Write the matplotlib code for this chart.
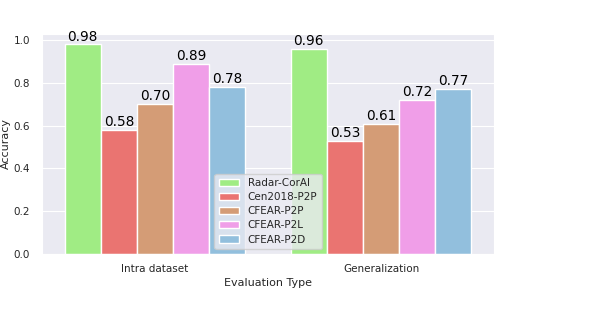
import matplotlib
matplotlib.use('Agg')
import matplotlib.pyplot as plt
import seaborn as sns
import numpy as np

# evaluation types on x axis
eval_types = ['Intra dataset', 'Generalization']
# methods (hue)
methods = ['Radar-CorAl', 'Cen2018-P2P', 'CFEAR-P2P', 'CFEAR-P2L', 'CFEAR-P2D']
# accuracy per method, [intra, generalization]
radar_coral = [0.98, 0.96]
cen2018_p2p = [0.58, 0.53]
cfear_p2p = [0.70, 0.61]
cfear_p2l = [0.89, 0.72]
cfear_p2d = [0.78, 0.77]

colors = ['#a0ec84', '#ea7471', '#d49c76', '#f09ee8', '#92bfdd']

sns.set_style('darkgrid')
plt.rcParams['font.family'] = ['DejaVu Sans']

fig = plt.figure(figsize=(5.98, 3.36), dpi=100)
ax = fig.add_axes([0.0702, 0.244, 0.756, 0.655])

values = [radar_coral, cen2018_p2p, cfear_p2p, cfear_p2l, cfear_p2d]
x = np.arange(len(eval_types))
w = 0.16
for i, (m, v) in enumerate(zip(methods, values)):
    pos = x + (i - 2) * w
    bars = ax.bar(pos, v, width=w, color=colors[i], edgecolor='white',
                  linewidth=1, label=m)
    for b, val in zip(bars, v):
        ax.text(b.get_x() + b.get_width() / 2, b.get_height() + 0.004,
                '%.2f' % val, ha='center', va='bottom', fontsize=9.8,
                color='black')

ax.set_xlim(-0.5, 1.5)
ax.set_ylim(0, 1.029)
ax.set_yticks([0.0, 0.2, 0.4, 0.6, 0.8, 1.0])
ax.set_xticks(x)
ax.set_xticklabels(eval_types)
ax.grid(False, axis='x')
ax.tick_params(axis='y', labelsize=7.5, pad=5)
ax.tick_params(axis='x', labelsize=7.5, pad=3.5)
ax.set_xlabel('Evaluation Type', fontsize=8, labelpad=3)
ax.set_ylabel('Accuracy', fontsize=8, labelpad=2)

ax.legend(loc='lower center', fontsize=7.5, handlelength=2, borderpad=0.4,
          labelspacing=0.4)

fig.savefig('out.png', dpi=100)
